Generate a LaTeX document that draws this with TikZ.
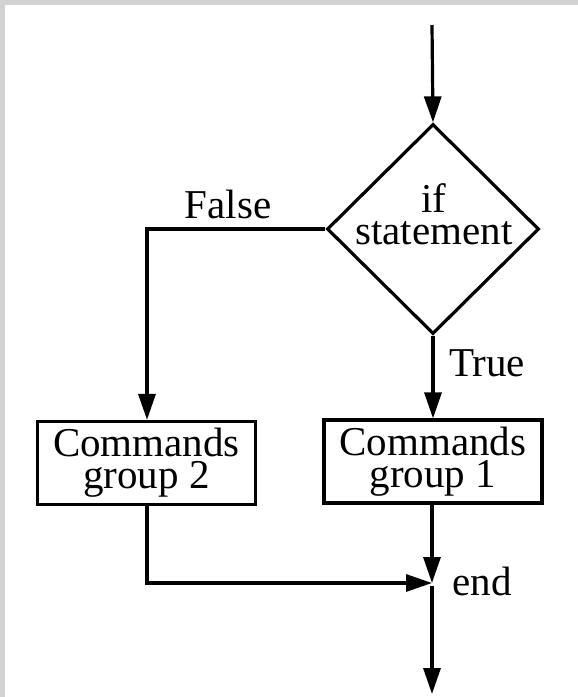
\documentclass[tikz,border=0pt]{standalone}
\usepackage{fontspec}
\setmainfont{Liberation Serif}
\usetikzlibrary{arrows.meta,shapes.geometric}
\definecolor{framegray}{RGB}{210,210,210}
\begin{document}
\begin{tikzpicture}[x=1pt,y=-1pt,
  line width=3.2pt,
  txt/.style={font=\fontsize{41}{32}\selectfont, inner sep=0pt, align=center},
  cmdbox/.style={draw, rectangle, inner sep=0pt, minimum width=218pt, minimum height=83pt, txt},
  decision/.style={draw, diamond, inner sep=0pt, minimum width=212pt, minimum height=210pt},
  arr/.style={-{Triangle[length=26pt,width=17pt]}},
  flow/.style={line join=miter}
]
\useasboundingbox (0,0) rectangle (578,697);
\fill[white] (0,0) rectangle (578,697);
\fill[framegray] (0,0) rectangle (578,5);
\fill[framegray] (0,0) rectangle (4.5,697);

\coordinate (start) at (432,25);
\node[decision] (dec) at (433,229) {};
\node[txt] (dectext) at (434,214) {if\\statement};
\node[cmdbox] (g1) at (433,461.5) {Commands\\group 1};
\node[cmdbox] (g2) at (146.5,463) {Commands\\group 2};
\coordinate (fcorner) at (147,229);
\coordinate (join) at (432,583);
\coordinate (stop) at (432,694);

\node[txt] (falselbl) at (228,204) {False};
\node[txt] (truelbl) at (487,363) {True};
\node[txt] (endlbl) at (482,581) {end};

\draw[arr] (start) -- (dec.north);
\draw[arr,flow] (dec.west) -- (fcorner) -- (g2.north -| fcorner);
\draw[arr] (dec.south) -- (g1.north -| dec.south);
\draw[arr] (g1.south -| join) -- (join);
\draw[arr,flow] (g2.south -| fcorner) |- (join);
\draw[arr,shorten <=3pt] (join) -- (stop);
\end{tikzpicture}
\end{document}
